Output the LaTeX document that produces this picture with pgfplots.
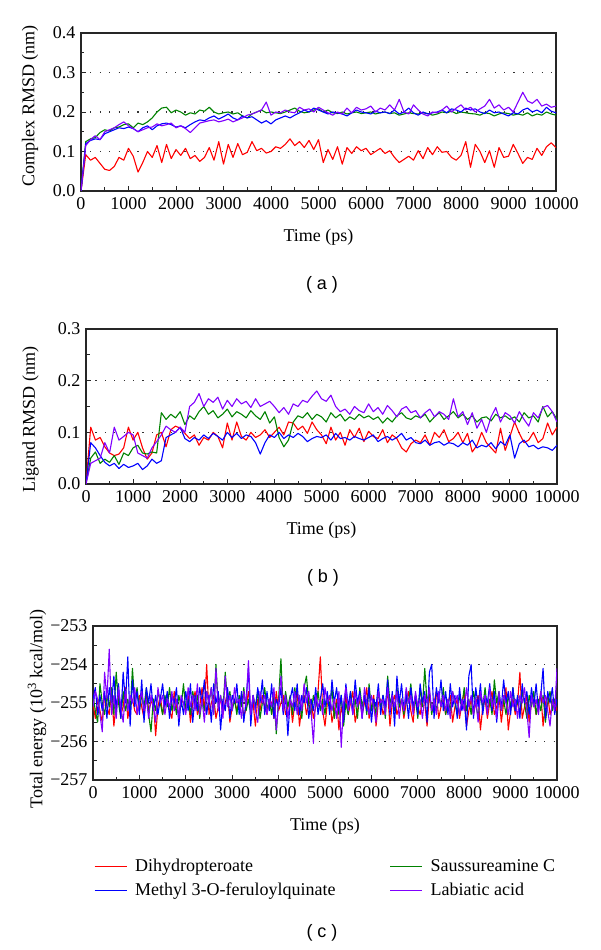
\documentclass[border=0pt]{standalone}
\usepackage{fontspec}
\setmainfont{Liberation Serif}
\newfontfamily\arial{Liberation Sans}
\usepackage{pgfplots}
\pgfplotsset{compat=1.18}
\usepackage{pgfplotstable}
\definecolor{cred}{RGB}{255,0,0}
\definecolor{cgreen}{RGB}{0,130,0}
\definecolor{cblue}{RGB}{0,0,255}
\definecolor{cpurple}{RGB}{128,0,255}

\pgfplotstableread{
t r g b p
0 0.000 0.000 0.000 0.000
100 0.092 0.125 0.120 0.115
200 0.078 0.132 0.128 0.130
300 0.085 0.135 0.132 0.140
400 0.070 0.148 0.130 0.130
500 0.055 0.155 0.145 0.150
600 0.052 0.152 0.150 0.155
700 0.062 0.160 0.155 0.160
800 0.085 0.162 0.160 0.168
900 0.078 0.168 0.158 0.175
1000 0.108 0.170 0.162 0.165
1100 0.088 0.160 0.158 0.158
1200 0.048 0.172 0.150 0.150
1300 0.072 0.168 0.160 0.155
1400 0.100 0.175 0.165 0.160
1500 0.085 0.185 0.155 0.162
1600 0.115 0.200 0.165 0.170
1700 0.072 0.210 0.170 0.165
1800 0.118 0.212 0.172 0.168
1900 0.082 0.198 0.168 0.172
2000 0.105 0.205 0.162 0.160
2100 0.090 0.200 0.165 0.165
2200 0.108 0.192 0.160 0.158
2300 0.082 0.198 0.168 0.148
2400 0.090 0.195 0.175 0.160
2500 0.075 0.205 0.180 0.172
2600 0.085 0.202 0.178 0.175
2700 0.110 0.212 0.185 0.178
2800 0.078 0.200 0.190 0.180
2900 0.125 0.195 0.182 0.175
3000 0.068 0.198 0.188 0.178
3100 0.118 0.200 0.195 0.182
3200 0.085 0.195 0.185 0.175
3300 0.120 0.198 0.180 0.180
3400 0.092 0.190 0.190 0.185
3500 0.098 0.185 0.185 0.192
3600 0.125 0.195 0.188 0.195
3700 0.102 0.200 0.180 0.200
3800 0.108 0.205 0.172 0.205
3900 0.096 0.198 0.178 0.225
4000 0.100 0.200 0.170 0.192
4100 0.112 0.198 0.180 0.200
4200 0.108 0.196 0.185 0.198
4300 0.118 0.200 0.190 0.205
4400 0.132 0.205 0.185 0.200
4500 0.115 0.210 0.192 0.198
4600 0.125 0.202 0.198 0.212
4700 0.110 0.198 0.205 0.205
4800 0.128 0.200 0.200 0.208
4900 0.105 0.205 0.210 0.200
5000 0.130 0.208 0.205 0.212
5100 0.072 0.200 0.200 0.205
5200 0.105 0.205 0.195 0.198
5300 0.080 0.198 0.200 0.192
5400 0.112 0.196 0.198 0.200
5500 0.068 0.200 0.195 0.195
5600 0.110 0.195 0.190 0.210
5700 0.095 0.198 0.198 0.198
5800 0.112 0.200 0.205 0.212
5900 0.102 0.196 0.200 0.205
6000 0.108 0.198 0.198 0.208
6100 0.092 0.200 0.195 0.215
6200 0.100 0.195 0.202 0.200
6300 0.108 0.198 0.198 0.210
6400 0.095 0.200 0.200 0.205
6500 0.102 0.196 0.196 0.218
6600 0.085 0.198 0.205 0.205
6700 0.072 0.192 0.195 0.232
6800 0.080 0.195 0.200 0.200
6900 0.088 0.198 0.210 0.195
7000 0.078 0.196 0.198 0.218
7100 0.102 0.195 0.192 0.205
7200 0.082 0.198 0.200 0.195
7300 0.110 0.196 0.195 0.190
7400 0.092 0.192 0.198 0.200
7500 0.112 0.195 0.200 0.198
7600 0.098 0.200 0.205 0.205
7700 0.100 0.198 0.198 0.215
7800 0.085 0.202 0.208 0.200
7900 0.078 0.196 0.205 0.210
8000 0.090 0.200 0.200 0.218
8100 0.125 0.198 0.210 0.205
8200 0.060 0.196 0.205 0.212
8300 0.118 0.195 0.208 0.200
8400 0.100 0.192 0.200 0.208
8500 0.072 0.198 0.196 0.215
8600 0.102 0.196 0.205 0.232
8700 0.060 0.190 0.198 0.210
8800 0.110 0.195 0.200 0.218
8900 0.085 0.198 0.195 0.205
9000 0.088 0.196 0.190 0.212
9100 0.118 0.192 0.198 0.200
9200 0.095 0.195 0.195 0.225
9300 0.070 0.192 0.205 0.250
9400 0.085 0.198 0.210 0.228
9500 0.080 0.190 0.200 0.222
9600 0.108 0.195 0.205 0.232
9700 0.090 0.192 0.198 0.215
9800 0.112 0.200 0.212 0.220
9900 0.122 0.195 0.202 0.212
10000 0.110 0.192 0.198 0.215
}\tableA

\pgfplotstableread{
t r g b p
0 0.000 0.000 0.000 0.000
100 0.110 0.050 0.080 0.040
200 0.085 0.062 0.070 0.045
300 0.090 0.040 0.055 0.050
400 0.072 0.048 0.042 0.080
500 0.060 0.042 0.035 0.060
600 0.055 0.055 0.040 0.110
700 0.058 0.038 0.030 0.085
800 0.070 0.060 0.038 0.092
900 0.110 0.055 0.032 0.100
1000 0.085 0.070 0.035 0.095
1100 0.100 0.075 0.040 0.060
1200 0.070 0.060 0.028 0.055
1300 0.048 0.058 0.035 0.050
1400 0.060 0.062 0.048 0.070
1500 0.095 0.060 0.040 0.082
1600 0.100 0.138 0.045 0.095
1700 0.072 0.125 0.090 0.112
1800 0.105 0.135 0.095 0.105
1900 0.112 0.128 0.100 0.100
2000 0.108 0.140 0.110 0.110
2100 0.098 0.115 0.088 0.100
2200 0.088 0.132 0.082 0.150
2300 0.095 0.125 0.090 0.158
2400 0.075 0.140 0.085 0.175
2500 0.090 0.150 0.095 0.150
2600 0.085 0.135 0.088 0.165
2700 0.100 0.142 0.098 0.158
2800 0.092 0.128 0.092 0.168
2900 0.070 0.135 0.085 0.145
3000 0.118 0.145 0.100 0.162
3100 0.085 0.130 0.090 0.150
3200 0.120 0.140 0.098 0.165
3300 0.092 0.135 0.088 0.155
3400 0.085 0.128 0.095 0.160
3500 0.100 0.142 0.092 0.148
3600 0.090 0.132 0.080 0.165
3700 0.095 0.125 0.058 0.150
3800 0.105 0.140 0.080 0.155
3900 0.090 0.118 0.095 0.160
4000 0.100 0.130 0.090 0.150
4100 0.110 0.090 0.100 0.138
4200 0.095 0.072 0.088 0.148
4300 0.120 0.085 0.095 0.135
4400 0.118 0.120 0.090 0.155
4500 0.105 0.132 0.098 0.150
4600 0.112 0.128 0.092 0.162
4700 0.098 0.138 0.082 0.158
4800 0.120 0.125 0.088 0.170
4900 0.105 0.135 0.092 0.180
5000 0.095 0.130 0.090 0.165
5100 0.078 0.120 0.095 0.160
5200 0.110 0.138 0.085 0.172
5300 0.085 0.128 0.098 0.150
5400 0.100 0.135 0.088 0.140
5500 0.075 0.122 0.090 0.145
5600 0.105 0.130 0.085 0.135
5700 0.090 0.125 0.092 0.150
5800 0.108 0.135 0.088 0.142
5900 0.082 0.128 0.085 0.138
6000 0.102 0.132 0.090 0.155
6100 0.092 0.125 0.095 0.140
6200 0.088 0.130 0.082 0.148
6300 0.105 0.118 0.088 0.135
6400 0.080 0.128 0.092 0.152
6500 0.095 0.120 0.085 0.142
6600 0.088 0.132 0.090 0.130
6700 0.070 0.138 0.098 0.145
6800 0.062 0.128 0.085 0.150
6900 0.078 0.125 0.090 0.138
7000 0.085 0.132 0.080 0.142
7100 0.080 0.128 0.078 0.128
7200 0.095 0.135 0.085 0.138
7300 0.075 0.120 0.075 0.145
7400 0.100 0.130 0.080 0.130
7500 0.090 0.138 0.082 0.140
7600 0.105 0.125 0.075 0.135
7700 0.082 0.132 0.080 0.125
7800 0.088 0.140 0.078 0.165
7900 0.100 0.128 0.072 0.130
8000 0.080 0.135 0.080 0.140
8100 0.098 0.125 0.075 0.115
8200 0.062 0.132 0.085 0.138
8300 0.075 0.120 0.070 0.108
8400 0.100 0.128 0.075 0.125
8500 0.080 0.130 0.072 0.100
8600 0.070 0.122 0.080 0.130
8700 0.060 0.135 0.068 0.148
8800 0.108 0.128 0.082 0.120
8900 0.065 0.132 0.075 0.138
9000 0.092 0.125 0.095 0.132
9100 0.120 0.130 0.050 0.118
9200 0.098 0.120 0.078 0.140
9300 0.080 0.138 0.085 0.125
9400 0.085 0.128 0.072 0.112
9500 0.100 0.132 0.075 0.138
9600 0.080 0.120 0.068 0.128
9700 0.088 0.150 0.072 0.148
9800 0.118 0.130 0.070 0.152
9900 0.095 0.140 0.065 0.140
10000 0.110 0.125 0.075 0.120
}\tableB

\pgfplotstableread{
t r g b p
0 -255.0 -254.8 -254.9 -255.1
50 -255.4 -255.2 -254.6 -254.7
100 -254.9 -255.5 -255.3 -254.9
150 -255.2 -254.5 -254.8 -255.3
200 -255.5 -255.0 -255.2 -255.75
250 -254.8 -255.3 -254.7 -254.2
300 -255.1 -254.8 -255.4 -254.9
350 -255.3 -255.1 -254.6 -253.6
400 -254.7 -254.6 -255.0 -255.3
450 -255.6 -255.3 -254.3 -254.8
500 -255.0 -254.2 -255.2 -255.4
550 -254.8 -255.0 -254.5 -254.6
600 -255.3 -255.4 -255.4 -255.1
650 -255.1 -254.7 -254.2 -255.5
700 -254.6 -255.2 -255.0 -254.7
750 -255.4 -254.9 -253.8 -255.2
800 -255.0 -255.3 -255.6 -254.8
850 -254.9 -254.1 -254.4 -255.0
900 -255.2 -255.0 -255.1 -254.6
950 -255.3 -254.6 -254.7 -255.3
1000 -254.8 -255.2 -255.3 -255.0
1050 -255.1 -254.8 -254.4 -254.7
1100 -255.4 -255.1 -255.5 -255.2
1150 -254.7 -254.6 -254.6 -254.9
1200 -255.2 -255.3 -255.0 -255.4
1250 -255.0 -255.75 -254.5 -254.8
1300 -254.9 -254.9 -255.2 -255.1
1350 -255.85 -255.2 -254.8 -255.5
1400 -255.1 -254.7 -255.3 -254.6
1450 -254.8 -255.0 -254.9 -255.0
1500 -255.3 -255.3 -254.5 -254.8
1550 -255.0 -254.8 -255.1 -255.3
1600 -254.9 -255.1 -254.7 -254.9
1650 -255.2 -254.6 -255.4 -255.1
1700 -255.4 -255.2 -254.8 -254.7
1750 -254.7 -254.9 -255.0 -255.2
1800 -255.1 -255.3 -254.6 -254.9
1850 -255.3 -254.8 -255.6 -255.4
1900 -254.9 -255.1 -254.9 -254.8
1950 -255.0 -254.5 -255.3 -255.0
2000 -255.2 -255.2 -254.7 -255.3
2050 -254.8 -254.9 -255.2 -254.6
2100 -255.5 -255.3 -254.5 -255.1
2150 -255.0 -254.7 -255.5 -254.8
2200 -254.7 -255.1 -254.8 -255.2
2250 -255.3 -254.8 -255.2 -254.5
2300 -255.1 -255.4 -254.6 -255.3
2350 -254.6 -254.9 -255.0 -254.9
2400 -255.2 -255.2 -254.4 -255.5
2450 -254.0 -254.7 -255.3 -254.7
2500 -255.3 -255.0 -254.8 -255.0
2550 -255.0 -254.6 -255.5 -254.6
2600 -254.8 -255.3 -254.5 -255.3
2650 -255.4 -254.0 -255.0 -254.1
2700 -255.1 -255.1 -254.7 -255.2
2750 -254.9 -254.8 -255.7 -254.8
2800 -255.3 -255.2 -254.9 -255.4
2850 -255.0 -254.2 -255.2 -254.3
2900 -254.7 -255.0 -254.6 -255.1
2950 -255.5 -254.7 -255.4 -254.8
3000 -255.1 -255.2 -254.8 -255.2
3050 -254.9 -254.9 -255.0 -254.6
3100 -255.2 -255.3 -254.5 -255.0
3150 -255.0 -254.8 -255.3 -254.9
3200 -254.8 -255.1 -254.7 -255.4
3250 -255.4 -254.6 -255.5 -254.7
3300 -255.1 -255.2 -254.9 -255.1
3350 -254.7 -254.9 -254.1 -253.9
3400 -255.2 -255.3 -255.6 -255.3
3450 -255.0 -254.8 -254.8 -254.8
3500 -255.6 -255.1 -255.2 -255.2
3550 -254.9 -254.7 -254.6 -255.5
3600 -255.2 -255.4 -255.0 -254.7
3650 -254.8 -255.0 -254.4 -255.0
3700 -255.1 -254.6 -255.3 -254.8
3750 -255.3 -255.2 -254.7 -255.3
3800 -254.9 -254.9 -255.2 -254.9
3850 -255.0 -255.3 -254.5 -255.1
3900 -255.4 -254.8 -255.4 -254.6
3950 -254.7 -255.8 -254.9 -255.7
4000 -255.2 -254.9 -255.1 -255.0
4050 -255.0 -253.85 -254.6 -254.3
4100 -254.8 -255.2 -255.3 -255.2
4150 -255.3 -254.7 -254.8 -254.8
4200 -255.1 -255.1 -255.85 -255.4
4250 -254.9 -254.8 -254.9 -254.9
4300 -255.5 -255.3 -254.6 -255.1
4350 -255.0 -254.6 -255.2 -254.7
4400 -254.7 -255.2 -254.5 -255.3
4450 -255.6 -254.9 -255.3 -254.8
4500 -255.1 -255.4 -254.8 -255.2
4550 -254.8 -254.6 -255.0 -254.5
4600 -255.3 -254.3 -254.6 -255.0
4650 -255.0 -255.0 -255.4 -254.7
4700 -254.9 -255.3 -254.9 -255.2
4750 -255.4 -254.8 -255.2 -256.05
4800 -255.1 -255.1 -254.6 -254.8
4850 -254.7 -254.7 -255.3 -255.1
4900 -253.8 -255.2 -254.9 -254.9
4950 -255.2 -254.9 -254.5 -255.3
5000 -255.6 -255.3 -255.1 -254.6
5050 -255.0 -254.8 -254.7 -255.0
5100 -254.8 -255.1 -255.3 -254.8
5150 -255.5 -254.6 -254.4 -255.2
5200 -255.2 -255.4 -255.0 -254.9
5250 -254.9 -255.0 -254.6 -255.4
5300 -255.7 -255.3 -255.2 -254.7
5350 -255.1 -254.8 -254.8 -256.15
5400 -255.4 -255.6 -255.5 -255.0
5450 -254.8 -255.0 -254.5 -254.6
5500 -255.3 -255.3 -255.1 -255.2
5550 -255.0 -254.7 -254.7 -254.9
5600 -254.7 -255.2 -255.3 -255.3
5650 -255.5 -254.9 -254.4 -254.7
5700 -255.2 -255.4 -255.0 -255.1
5750 -254.9 -254.6 -254.7 -254.8
5800 -255.3 -255.1 -255.4 -255.4
5850 -255.0 -254.8 -254.8 -254.6
5900 -254.6 -255.3 -255.2 -255.0
5950 -255.4 -254.5 -254.6 -255.3
6000 -255.1 -255.2 -255.5 -254.8
6050 -254.8 -254.9 -254.9 -255.1
6100 -255.6 -255.3 -255.1 -255.5
6150 -255.0 -254.7 -254.5 -254.7
6200 -254.9 -255.1 -255.3 -255.0
6250 -255.3 -254.8 -254.8 -254.9
6300 -255.1 -255.4 -255.1 -255.3
6350 -254.7 -254.3 -254.4 -254.6
6400 -255.6 -255.0 -255.3 -255.2
6450 -255.0 -254.8 -254.7 -254.8
6500 -254.8 -255.2 -255.6 -255.1
6550 -255.3 -254.6 -254.3 -254.7
6600 -255.1 -255.1 -255.0 -255.4
6650 -254.9 -254.9 -254.5 -254.9
6700 -255.4 -255.3 -255.2 -255.2
6750 -255.0 -254.7 -254.8 -254.6
6800 -254.7 -255.0 -255.4 -255.0
6850 -255.2 -254.5 -254.6 -254.8
6900 -255.5 -255.2 -255.1 -255.3
6950 -254.8 -254.9 -254.8 -254.7
7000 -255.1 -255.4 -255.3 -255.1
7050 -255.3 -254.6 -254.5 -254.9
7100 -254.9 -255.1 -255.0 -255.4
7150 -255.0 -254.1 -254.7 -254.8
7200 -255.6 -255.0 -255.5 -255.0
7250 -254.8 -254.7 -254.2 -254.6
7300 -255.2 -255.3 -254.0 -255.2
7350 -255.0 -254.9 -255.4 -254.9
7400 -254.7 -255.2 -254.6 -255.3
7450 -255.4 -254.8 -255.0 -254.7
7500 -255.1 -255.1 -254.4 -255.1
7550 -254.9 -254.6 -255.2 -254.8
7600 -255.3 -255.3 -254.7 -255.2
7650 -255.0 -254.9 -255.3 -254.9
7700 -254.8 -255.2 -254.5 -255.4
7750 -255.5 -254.7 -255.1 -254.7
7800 -255.1 -255.0 -254.8 -255.0
7850 -254.9 -255.3 -255.4 -254.8
7900 -255.4 -254.8 -254.6 -255.3
7950 -255.0 -255.1 -255.2 -254.9
8000 -254.7 -254.6 -254.9 -255.2
8050 -255.6 -255.2 -255.7 -254.6
8100 -255.2 -254.9 -254.3 -255.1
8150 -254.9 -255.3 -254.0 -254.8
8200 -255.3 -254.7 -255.4 -255.3
8250 -255.0 -255.0 -254.6 -254.9
8300 -254.8 -255.4 -255.1 -255.5
8350 -255.7 -254.8 -254.5 -254.7
8400 -255.1 -255.1 -255.3 -255.0
8450 -254.9 -254.6 -254.8 -254.8
8500 -255.4 -255.2 -255.0 -255.3
8550 -255.0 -254.9 -254.5 -254.6
8600 -254.7 -255.3 -255.2 -255.1
8650 -255.3 -254.4 -254.7 -254.9
8700 -255.1 -255.0 -255.5 -255.4
8750 -254.8 -254.7 -254.8 -254.7
8800 -255.5 -255.2 -255.1 -255.2
8850 -255.0 -254.9 -254.4 -254.8
8900 -254.6 -255.3 -255.0 -255.0
8950 -255.7 -254.8 -254.7 -255.3
9000 -255.2 -255.1 -255.3 -254.7
9050 -254.9 -254.6 -254.6 -255.1
9100 -255.3 -255.2 -255.2 -254.9
9150 -255.0 -254.9 -254.8 -255.4
9200 -254.2 -255.3 -255.4 -254.8
9250 -255.4 -254.7 -254.5 -255.0
9300 -255.1 -255.0 -255.0 -254.6
9350 -254.8 -255.4 -254.7 -255.2
9400 -255.5 -254.8 -255.3 -255.9
9450 -255.0 -255.1 -254.6 -254.8
9500 -254.9 -254.7 -255.1 -255.1
9550 -255.3 -255.3 -254.5 -254.9
9600 -255.1 -254.9 -255.2 -255.3
9650 -254.7 -255.2 -254.8 -254.7
9700 -255.6 -254.8 -254.1 -255.0
9750 -255.0 -255.5 -255.4 -254.8
9800 -254.8 -255.0 -254.7 -255.2
9850 -255.3 -254.7 -255.0 -255.6
9900 -255.1 -255.2 -254.6 -254.9
9950 -254.9 -254.9 -255.3 -255.2
10000 -255.2 -255.0 -254.9 -254.1
}\tableC

\pgfplotsset{
  panel/.style={
    scale only axis,
    anchor=north west,
    xmin=0, xmax=10000,
    scaled x ticks=false, scaled y ticks=false,
    xtick={0,1000,2000,3000,4000,5000,6000,7000,8000,9000,10000},
    xticklabels={0,1000,2000,3000,4000,5000,6000,7000,8000,9000,10000},
    minor x tick num=1,
    minor y tick num=1,
    xtick pos=bottom, ytick pos=left,
    tick align=inside,
    major tick length=5pt, minor tick length=3.5pt,
    ymajorgrids,
    grid style={line width=1.1pt, dash pattern=on 1.1pt off 8.3pt, black!80},
    axis line style={line width=1.1pt, black!85},
    every tick/.style={black!85, line width=0.9pt},
    tick label style={font=\fontsize{18}{20}\selectfont},
    label style={font=\fontsize{18}{20}\selectfont},
    xticklabel style={yshift=-3pt},
    yticklabel style={xshift=-2pt},
    xlabel={Time (ps)},
    xlabel style={at={(axis description cs:0.5,0)}, anchor=north, inner sep=0pt, yshift=-38pt},
    every axis plot/.append style={line width=1.1pt, line join=round},
  }
}

\begin{document}
\begin{tikzpicture}
\useasboundingbox (0,0) rectangle (600pt,-950pt);

% (a)
\begin{axis}[panel, at={(81pt,-33pt)}, width=475pt, height=158pt,
  ymin=0, ymax=0.4, ytick={0,0.1,0.2,0.3,0.4},
  yticklabels={0.0,0.1,0.2,0.3,0.4},
  ylabel={Complex RMSD (nm)},
  ylabel style={at={(axis description cs:0,0.5)}, anchor=center, yshift=51pt, xshift=6pt}]
\addplot[cred] table[x=t,y=r] {\tableA};
\addplot[cgreen] table[x=t,y=g] {\tableA};
\addplot[cblue] table[x=t,y=b] {\tableA};
\addplot[cpurple] table[x=t,y=p] {\tableA};
\end{axis}

% (b)
\begin{axis}[panel, at={(86pt,-329pt)}, width=471pt, height=155pt,
  ymin=0, ymax=0.3, ytick={0,0.1,0.2,0.3},
  yticklabels={0.0,0.1,0.2,0.3},
  ylabel={Ligand RMSD (nm)},
  ylabel style={at={(axis description cs:0,0.5)}, anchor=center, yshift=55.5pt, xshift=-13pt}]
\addplot[cred] table[x=t,y=r] {\tableB};
\addplot[cgreen] table[x=t,y=g] {\tableB};
\addplot[cblue] table[x=t,y=b] {\tableB};
\addplot[cpurple] table[x=t,y=p] {\tableB};
\end{axis}

% (c)
\begin{axis}[panel, at={(93pt,-626pt)}, width=464pt, height=154pt,
  ymin=-257, ymax=-253, ytick={-257,-256,-255,-254,-253},
  yticklabels={−257,−256,−255,−254,−253},
  ylabel={Total energy (10\textsuperscript{3} kcal/mol)},
  ylabel style={at={(axis description cs:0,0.5)}, anchor=center, yshift=56pt, xshift=-6pt},
  legend columns=2,
  legend cell align=left,
  legend image code/.code={\draw[mark repeat=2,mark phase=2,#1] plot coordinates {(0pt,0pt) (16pt,0pt) (32pt,0pt)};},
  legend style={draw=none, fill=none, at={(axis description cs:0,0)}, anchor=north west,
    xshift=1pt, yshift=-77pt, inner sep=0pt,
    font=\fontsize{18}{20}\selectfont,
    row sep=6pt,
    /tikz/every odd column/.append style={column sep=6pt},
    /tikz/every even column/.append style={column sep=52pt}},
  ]
\addplot[cred, forget plot] table[x=t,y=r] {\tableC};
\addplot[cgreen, forget plot] table[x=t,y=g] {\tableC};
\addplot[cblue, forget plot] table[x=t,y=b] {\tableC};
\addplot[cpurple, forget plot] table[x=t,y=p] {\tableC};
\addlegendimage{color=cred, line width=1pt}
\addlegendentry{Dihydropteroate}
\addlegendimage{color=cgreen, line width=1pt}
\addlegendentry{Saussureamine C}
\addlegendimage{color=cblue, line width=1pt}
\addlegendentry{Methyl 3-O-feruloylquinate}
\addlegendimage{color=cpurple, line width=1pt}
\addlegendentry{Labiatic acid}
\end{axis}

\node[font=\arial\fontsize{18}{20}\selectfont] at (322pt,-285pt) {( a )};
\node[font=\arial\fontsize{18}{20}\selectfont] at (323pt,-578pt) {( b )};
\node[font=\arial\fontsize{18}{20}\selectfont] at (322pt,-933pt) {( c )};
\end{tikzpicture}
\end{document}
